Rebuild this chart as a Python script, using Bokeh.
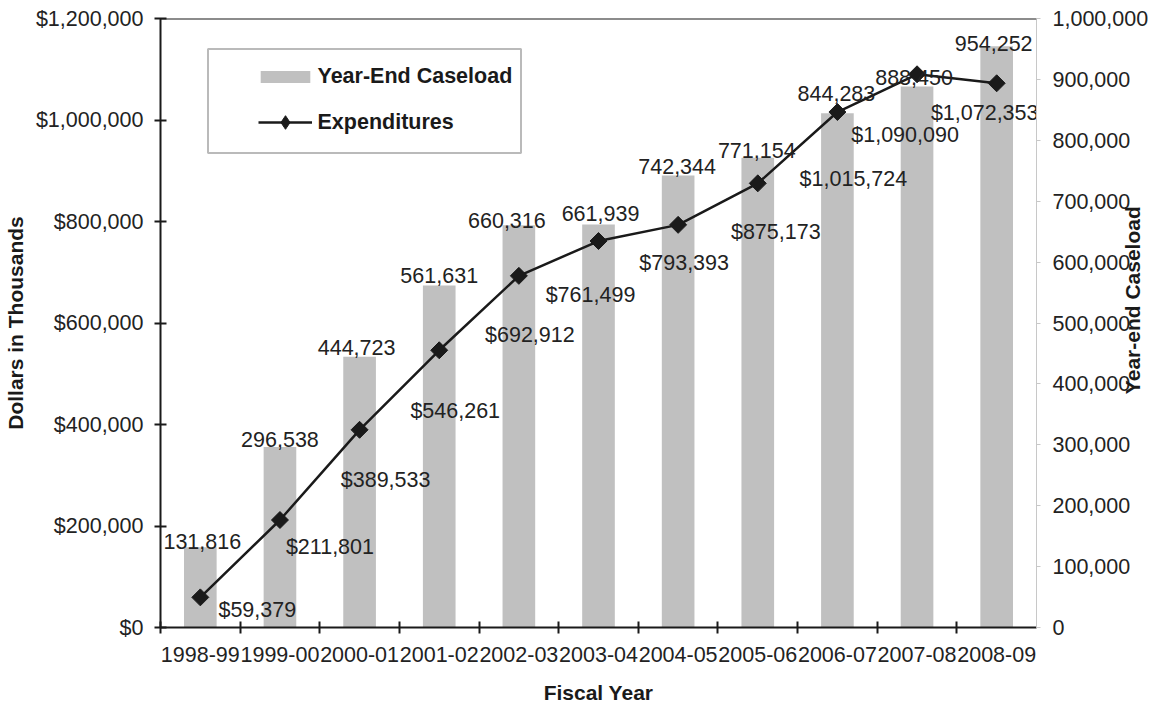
import math

from bokeh.plotting import figure
from bokeh.models import (ColumnDataSource, Range1d, LinearAxis, FixedTicker,
                          NumeralTickFormatter, Legend, LegendItem, Span,
                          BoxAnnotation)
from bokeh.core.properties import value
from bokeh.embed import file_html
from bokeh.resources import INLINE

# ---- data -------------------------------------------------------------
fiscal_years = ["1998-99", "1999-00", "2000-01", "2001-02", "2002-03", "2003-04",
                "2004-05", "2005-06", "2006-07", "2007-08", "2008-09"]
year_end_caseload = [131816, 296538, 444723, 561631, 660316, 661939,
                     742344, 771154, 844283, 888450, 954252]
expenditures = [59379, 211801, 389533, 546261, 692912, 761499,
                793393, 875173, 1015724, 1090090, 1072353]

dollar_ticks = [0, 200000, 400000, 600000, 800000, 1000000, 1200000]
caseload_ticks = [0, 100000, 200000, 300000, 400000, 500000,
                  600000, 700000, 800000, 900000, 1000000]

# hand-placed nudges (screen pixels) for the value labels
caseload_label_dx = [2, 0, -3, 0, -12, 2, -1, -1, -1, -3, -3]
caseload_label_dy = [-6, -7, -9, -10, -5, -11, -9, -7, -20, -9, -3]
spend_label_dx = [57, 50, 26, 16, 11, -8, 6, 18, 16, -12, -12]
spend_label_dy = [13, 27, 50, 61, 59, 54, 38, 49, 67, 61, 30]

# ---- styling ----------------------------------------------------------
FONT = "Liberation Sans"
SIZE = "21.5px"
TITLE_SIZE = "21px"
INK = "#1a1a1a"
TEXT = "#222222"
BAR = "#c0c0c0"

n = len(fiscal_years)
slot_centers = [i + 0.5 for i in range(n)]

src = ColumnDataSource(dict(
    x=slot_centers,
    caseload=year_end_caseload,
    spend=expenditures,
    caseload_text=[f"{v:,}" for v in year_end_caseload],
    spend_text=[f"${v:,}" for v in expenditures],
    cdx=caseload_label_dx, cdy=caseload_label_dy,
    sdx=spend_label_dx, sdy=spend_label_dy,
))

p = figure(width=1158, height=706, output_backend="svg", toolbar_location=None,
           x_range=Range1d(0, n), y_range=Range1d(0, 1200000),
           min_border_left=156, min_border_right=122,
           min_border_top=18, min_border_bottom=78)
p.extra_y_ranges = {"case": Range1d(0, 1000000)}
p.background_fill_color = "white"
p.border_fill_color = "white"
p.outline_line_color = None
p.xgrid.visible = False
p.ygrid.visible = False

# bars on the caseload scale
bars = p.vbar(x="x", top="caseload", width=0.41, source=src, y_range_name="case",
              fill_color=BAR, line_color=None)

# expenditures line with diamond markers
line = p.line(x="x", y="spend", source=src, line_color=INK, line_width=2.5)
pts = p.scatter(x="x", y="spend", source=src, marker="square", angle=math.pi / 4,
                size=12, fill_color=INK, line_color=INK)
# hidden twin of the markers, drawn only as the legend swatch
key_marker = p.scatter(x="x", y="spend", source=src, marker="diamond",
                       fill_color=INK, line_color=INK, visible=False)

# value labels
p.text(x="x", y="caseload", text="caseload_text", source=src, y_range_name="case",
       x_offset="cdx", y_offset="cdy", text_align="center",
       text_baseline="alphabetic", text_font=value(FONT),
       text_font_size=value(SIZE), text_color=TEXT)
p.text(x="x", y="spend", text="spend_text", source=src,
       x_offset="sdx", y_offset="sdy", text_align="center",
       text_baseline="alphabetic", text_font=value(FONT),
       text_font_size=value(SIZE), text_color=TEXT)

# ---- axes -------------------------------------------------------------
xa = p.xaxis[0]
xa.ticker = FixedTicker(ticks=slot_centers, minor_ticks=list(range(n)))
xa.major_label_overrides = {c: y for c, y in zip(slot_centers, fiscal_years)}
xa.major_tick_line_color = None
xa.minor_tick_line_color = INK
xa.minor_tick_line_width = 2
xa.minor_tick_in = 6
xa.minor_tick_out = 6
xa.axis_line_color = INK
xa.axis_line_width = 2
xa.major_label_standoff = 13
xa.major_label_text_font = FONT
xa.major_label_text_font_size = SIZE
xa.major_label_text_color = TEXT
xa.axis_label = "Fiscal Year"
xa.axis_label_text_font = FONT
xa.axis_label_text_font_size = TITLE_SIZE
xa.axis_label_text_font_style = "bold"
xa.axis_label_text_color = INK
xa.axis_label_standoff = 16

ya = p.yaxis[0]
ya.ticker = FixedTicker(ticks=dollar_ticks)
ya.formatter = NumeralTickFormatter(format="$0,0")
ya.axis_line_color = INK
ya.axis_line_width = 2
ya.major_tick_line_color = INK
ya.major_tick_line_width = 2
ya.major_tick_in = 6
ya.major_tick_out = 6
ya.minor_tick_line_color = None
ya.major_label_standoff = 11
ya.major_label_text_font = FONT
ya.major_label_text_font_size = SIZE
ya.major_label_text_color = TEXT
ya.axis_label = "Dollars in Thousands"
ya.axis_label_text_font = FONT
ya.axis_label_text_font_size = TITLE_SIZE
ya.axis_label_text_font_style = "bold"
ya.axis_label_text_color = INK
ya.axis_label_standoff = 6

ra = LinearAxis(y_range_name="case", ticker=FixedTicker(ticks=caseload_ticks),
                formatter=NumeralTickFormatter(format="0,0"))
ra.axis_line_color = "#c8c8c8"
ra.axis_line_width = 1
ra.major_tick_line_color = "#c8c8c8"
ra.major_tick_in = 0
ra.major_tick_out = 4
ra.minor_tick_line_color = None
ra.major_label_standoff = 12
ra.major_label_text_font = FONT
ra.major_label_text_font_size = SIZE
ra.major_label_text_color = TEXT
# title reads upward from the foot of the axis; non-breaking spaces lift it
ra.axis_label = "\u00a0" * 40 + "Year-end Caseload"
ra.axis_label_orientation = math.pi / 2
ra.axis_label_align = "start"
ra.axis_label_text_font = FONT
ra.axis_label_text_font_size = TITLE_SIZE
ra.axis_label_text_font_style = "bold"
ra.axis_label_text_color = INK
ra.axis_label_standoff = -19
p.add_layout(ra, "right")

# top edge of the plot area
p.add_layout(Span(location=1200000, dimension="width", line_color=INK, line_width=2))

# ---- legend -----------------------------------------------------------
p.add_layout(BoxAnnotation(left=47.5, right=360.5, top=578.5, bottom=474.5,
                           left_units="screen", right_units="screen",
                           top_units="screen", bottom_units="screen",
                           fill_color=None, line_color=INK, line_width=2))

legend_style = dict(margin=0, padding=14, label_height=24,
                    border_line_color=None, background_fill_alpha=0,
                    label_text_font=FONT, label_text_font_size=SIZE,
                    label_text_font_style="bold", label_text_color=INK)
p.add_layout(Legend(items=[LegendItem(label="Year-End Caseload", renderers=[bars])],
                    location=(93.5, 538), glyph_width=62, glyph_height=15,
                    label_standoff=2, **legend_style))
p.add_layout(Legend(items=[LegendItem(label="Expenditures",
                                      renderers=[line, key_marker])],
                    location=(97.5, 488), glyph_width=54, glyph_height=34,
                    label_standoff=6, **legend_style))

open("out.html", "w").write(file_html(p, INLINE))
